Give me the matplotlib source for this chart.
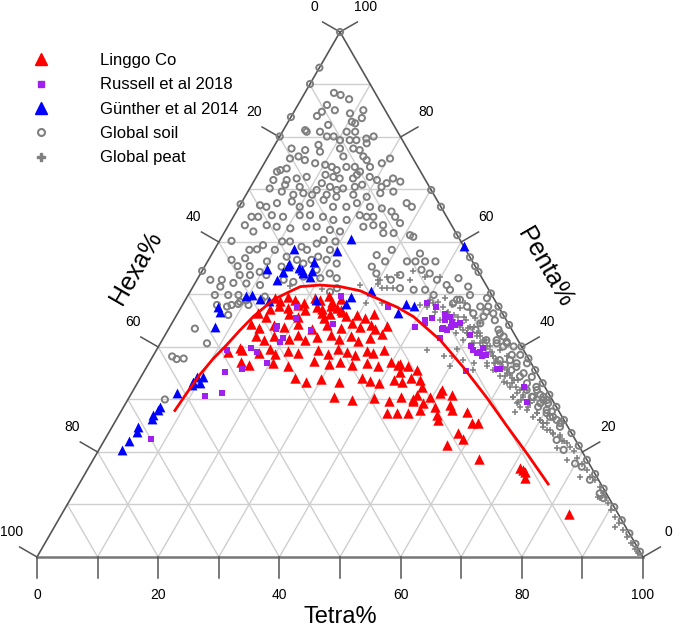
import numpy as np
import matplotlib
matplotlib.use("Agg")
import matplotlib.pyplot as plt
from matplotlib.lines import Line2D

plt.rcParams['font.family'] = ['Liberation Sans', 'DejaVu Sans']

# values as (Tetra%, Penta%); Hexa% = 100 - Tetra - Penta
linggo = [
    (14.7, 49.3), (15.8, 48.7), (16.7, 49.6), (18.0, 49.0), (19.9, 48.4), (21.1, 49.4), (22.2, 48.9),
    (23.3, 49.8), (24.4, 48.6), (25.5, 49.2),
    (14.9, 47.2), (16.0, 47.9), (17.7, 47.4), (19.1, 48.0), (20.7, 47.1), (22.4, 47.7), (23.4, 47.3),
    (24.5, 47.9), (25.7, 47.5), (26.7, 47.0),
    (13.3, 46.4), (14.9, 45.7), (18.5, 46.3), (20.1, 45.8), (23.7, 46.5), (24.5, 45.6), (25.3, 46.2),
    (27.0, 46.6), (28.1, 45.9), (29.8, 46.0), (31.4, 45.5), (32.5, 46.3),
    (13.1, 44.3), (14.8, 43.6), (17.0, 44.2), (18.9, 43.8), (20.9, 44.4), (23.6, 43.5), (25.8, 44.1),
    (28.3, 43.7), (29.7, 44.5), (31.3, 43.9), (33.0, 44.2), (34.1, 43.4), (35.7, 44.0),
    (15.1, 42.1), (16.7, 41.4), (18.1, 42.0), (20.8, 41.6), (22.0, 42.3), (23.6, 41.3), (25.3, 41.9),
    (27.4, 42.2), (29.1, 41.5), (30.8, 42.0), (32.4, 41.2), (34.1, 41.8), (35.7, 42.4),
    (12.0, 39.1), (14.0, 39.5), (17.2, 38.8), (18.6, 39.6), (20.0, 38.7), (21.7, 39.3), (23.6, 38.9),
    (26.6, 39.4), (28.8, 38.6), (29.9, 39.7), (31.6, 39.0), (33.2, 38.5), (34.9, 39.2), (36.0, 38.8),
    (37.6, 39.4), (13.5, 39.9),
    (15.0, 37.2), (16.7, 36.6), (20.5, 37.0), (23.3, 36.4), (27.1, 37.3), (29.9, 36.7), (31.5, 37.1),
    (33.8, 36.5), (36.0, 37.0), (38.1, 36.3), (39.8, 37.2), (41.5, 36.8), (43.1, 36.4),
    (25.5, 34.0), (27.7, 33.4), (29.9, 33.9), (33.2, 33.3), (36.5, 34.1), (38.1, 33.6), (39.8, 33.2),
    (42.0, 33.8), (43.6, 33.4), (44.7, 34.0),
    (33.8, 30.5), (37.1, 29.9), (40.4, 30.3), (43.2, 29.8), (44.8, 30.4), (47.0, 30.0),
    (41.3, 36.6), (42.3, 35.3), (44.9, 35.6), (46.4, 33.7), (47.3, 32.4), (47.2, 30.9), (47.2, 29.8),
    (49.1, 29.3), (49.2, 28.0), (51.4, 28.6), (49.6, 30.5), (50.9, 31.2), (50.9, 31.8), (52.5, 27.0),
    (53.2, 26.1), (53.7, 29.0), (54.4, 28.0), (57.1, 27.7), (59.0, 25.5), (60.1, 25.5), (57.7, 23.6),
    (59.1, 22.4), (57.0, 21.3), (44.0, 27.4), (45.7, 27.4), (47.6, 27.4), (53.0, 30.9), (63.6, 18.7),
    (71.9, 16.6), (72.5, 16.1), (72.9, 15.1), (71.2, 17.0), (83.7, 8.2),
]

russell = [
    (25.3, 49.7), (19.1, 47.6), (20.0, 45.5), (17.6, 44.0), (17.7, 43.4), (23.6, 43.2), (19.7, 41.8),
    (19.6, 41.0), (15.4, 39.8), (16.7, 39.1), (11.7, 39.4), (19.5, 36.9), (15.9, 35.8), (13.4, 35.3),
    (14.8, 31.3), (12.4, 30.7), (7.6, 22.5), (26.6, 44.4), (34.2, 47.6), (40.4, 43.9), (40.1, 48.4),
    (42.0, 47.6), (41.4, 45.1), (41.7, 44.6), (42.5, 45.5), (44.2, 46.3), (45.3, 45.8), (44.8, 45.1),
    (46.0, 44.8), (45.2, 43.6), (46.0, 43.2), (45.1, 43.4), (47.6, 44.5), (46.9, 44.2), (46.3, 43.9),
    (45.6, 41.7), (50.3, 42.3), (51.5, 40.1), (52.3, 39.4), (53.6, 39.1), (53.7, 39.8), (54.9, 38.5),
    (54.3, 38.3), (53.2, 38.8), (58.0, 35.8), (58.5, 35.9), (53.1, 35.5), (64.2, 32.4), (66.1, 29.6),
]

gunther = [
    (40.9, 59.2), (21.5, 60.5), (13.1, 58.6), (20.4, 58.3), (13.6, 55.9), (13.8, 55.4), (17.7, 56.1),
    (10.6, 54.8), (13.5, 54.3), (15.8, 55.0), (16.3, 54.7), (16.9, 54.0), (18.2, 54.5), (13.2, 52.8),
    (18.3, 53.4), (9.7, 49.7), (10.5, 49.9), (12.2, 49.1), (13.9, 48.8), (21.5, 49.0), (27.0, 49.5),
    (29.8, 50.7), (26.9, 48.2), (36.8, 48.2), (38.3, 47.8), (36.4, 46.4), (6.1, 47.6), (6.9, 46.7),
    (7.4, 43.9), (9.2, 34.3), (9.1, 33.4), (10.3, 33.1), (10.2, 34.3), (9.1, 32.8), (7.4, 31.3),
    (6.0, 28.6), (6.0, 28.0), (5.7, 27.0), (5.8, 26.2), (4.3, 24.7), (4.5, 23.9), (4.1, 22.0),
    (3.8, 20.4),
]

soil = [
    (4.8, 88.4), (6.1, 88.0), (7.9, 87.2), (4.8, 86.1), (6.6, 85.1), (4.2, 84.0), (4.6, 84.8), (9.4, 84.5),
    (11.3, 85.1), (11.8, 83.6), (10.5, 82.9), (11.2, 82.6), (3.6, 81.3), (4.0, 81.0), (6.2, 81.0),
    (6.9, 82.3), (8.9, 80.1), (7.8, 80.1), (10.3, 79.4), (10.6, 81.0), (12.0, 81.0), (13.0, 79.4),
    (11.9, 79.4), (14.5, 79.7), (15.5, 80.1), (15.0, 78.8), (14.5, 77.5), (13.3, 77.8), (3.1, 77.8),
    (5.5, 77.5), (7.2, 78.5), (8.1, 77.2), (11.1, 77.8), (12.4, 76.3), (15.7, 76.3), (16.6, 75.6),
    (3.8, 75.9), (5.0, 76.3), (6.4, 75.6), (3.3, 73.7), (2.9, 73.4), (4.2, 74.0), (8.4, 75.0),
    (10.2, 74.7), (11.5, 74.3), (12.6, 73.7), (13.9, 74.3), (15.3, 74.3), (16.6, 73.4), (17.8, 74.3),
    (20.3, 75.9), (19.4, 75.0), (5.3, 71.8), (6.8, 72.1), (8.3, 72.4), (11.2, 72.8), (12.7, 72.4),
    (13.9, 72.1), (16.1, 72.1), (16.4, 72.8), (18.7, 72.4), (20.2, 71.8), (22.1, 71.2), (22.7, 72.1),
    (24.2, 71.5), (3.1, 71.8), (5.5, 70.9), (8.1, 70.5), (11.4, 71.2), (13.1, 70.5), (14.5, 69.9),
    (15.4, 70.2), (17.2, 70.5), (18.2, 70.9), (21.6, 70.5), (3.3, 70.2), (5.6, 69.6), (7.8, 69.0),
    (9.3, 69.3), (10.9, 69.0), (11.2, 69.9), (13.3, 69.0), (15.1, 68.6), (17.7, 69.0), (20.1, 68.6),
    (22.0, 69.3), (24.0, 69.6), (27.3, 67.4), (28.5, 66.7), (3.3, 67.0), (4.5, 66.7), (5.9, 67.4),
    (8.2, 67.7), (10.0, 66.7), (11.4, 67.4), (13.3, 68.0), (15.5, 66.7), (17.7, 66.7), (19.1, 67.4),
    (21.6, 66.7), (23.7, 66.4), (25.6, 65.8), (26.7, 64.8), (3.0, 64.8), (4.1, 64.8), (6.2, 65.1),
    (8.2, 64.8), (10.8, 65.1), (12.5, 65.1), (14.8, 64.8), (16.8, 64.2), (19.0, 64.2), (20.7, 65.1),
    (22.0, 64.8), (23.1, 64.8), (28.1, 63.6), (2.7, 63.2), (4.7, 62.0), (6.3, 63.2), (8.1, 62.9),
    (10.5, 62.6), (13.0, 62.9), (14.7, 62.9), (17.2, 62.3), (19.0, 62.0), (22.4, 62.9), (23.9, 63.2),
    (25.5, 63.2), (28.0, 61.7), (30.9, 61.3), (31.6, 61.0), (26.3, 61.7),
    (2.0, 60.2), (5.8, 58.5), (7.0, 58.6), (3.8, 56.6), (5.9, 56.9), (5.4, 55.4), (7.4, 55.4), (9.8, 56.3),
    (6.6, 53.7), (8.3, 53.7), (9.6, 54.3), (4.1, 52.8), (2.2, 52.8), (6.3, 52.2), (4.5, 51.5), (8.5, 52.1),
    (10.9, 51.8), (7.6, 59.4), (10.0, 58.5), (10.4, 60.1), (11.7, 60.1), (14.1, 59.1), (15.3, 58.5),
    (16.3, 59.7), (17.1, 60.4), (19.1, 58.5), (19.2, 60.1), (17.8, 57.2), (19.5, 56.6), (21.5, 55.9),
    (12.6, 57.2), (14.6, 56.6), (16.0, 55.9), (17.0, 56.6), (18.8, 54.7), (12.7, 55.3), (11.0, 53.7),
    (14.3, 52.8), (16.1, 52.4), (17.3, 53.4), (20.2, 53.1), (21.3, 54.0), (22.9, 53.1), (4.4, 49.9),
    (6.6, 49.9), (8.3, 49.9), (5.7, 48.0), (7.5, 47.7), (9.1, 48.2), (12.6, 48.9), (12.8, 49.6),
    (10.1, 48.9), (10.9, 48.0), (23.1, 50.5), (23.9, 51.2),
    (8.1, 48.0), (9.2, 48.6), (8.5, 46.1), (4.3, 43.5), (7.7, 40.7), (3.2, 38.2), (4.2, 37.7), (5.3, 37.8),
    (6.1, 30.0), (27.3, 57.5), (27.6, 55.3), (29.0, 54.0),
    (29.3, 58.5), (29.3, 56.3), (32.9, 56.3), (34.3, 56.3), (35.9, 56.3), (37.6, 56.3), (34.3, 57.8),
    (36.1, 54.7), (37.8, 54.0), (39.6, 52.8), (41.7, 51.8), (42.7, 50.9), (43.0, 53.1), (45.4, 51.5),
    (46.5, 49.9), (44.8, 49.0), (36.7, 50.9), (40.5, 49.9), (33.1, 53.7), (32.0, 52.8), (34.3, 51.2),
    (38.6, 50.9), (49.6, 49.3), (50.6, 47.7), (52.1, 46.4), (54.5, 43.3), (56.0, 42.0), (57.2, 40.7),
    (57.6, 37.5), (58.9, 36.6), (60.5, 35.6), (62.5, 34.4), (66.6, 30.5), (68.4, 29.3), (69.2, 29.9),
    (71.8, 26.7), (73.9, 24.8), (49.3, 47.7), (50.8, 45.8), (50.7, 43.3), (53.5, 41.3), (55.5, 40.7),
    (59.1, 38.5), (60.7, 36.9), (64.3, 33.1), (66.6, 31.8),
    (64.9, 31.8), (66.4, 30.5), (67.6, 30.9), (68.6, 29.9), (69.7, 29.3), (68.4, 28.6), (70.4, 27.4),
    (71.1, 27.7), (72.7, 26.1), (73.6, 25.5), (74.6, 22.3), (76.7, 20.4), (79.9, 17.8), (81.3, 17.2),
    (83.9, 14.7), (86.8, 12.1), (87.9, 11.2),
    (50.8, 46.7), (53.0, 45.1), (55.1, 42.6), (57.0, 41.0), (58.6, 40.1), (60.5, 38.5), (62.4, 36.9),
    (64.5, 34.3), (66.2, 32.4), (68.3, 30.5), (70.1, 28.0), (71.3, 26.7), (55.2, 41.3), (56.9, 40.1),
    (59.3, 37.5), (61.0, 36.2), (62.8, 35.0), (50.9, 44.5), (48.8, 46.4), (47.1, 47.7), (45.3, 49.0),
    (44.5, 48.3),
    # points lying on the Hexa and Tetra edges
    (0.0, 100.0), (0.0, 93.2), (0.0, 90.1), (0.0, 83.8), (0.0, 80.1), (0.0, 67.2), (0.0, 54.5),
    (30.1, 69.9), (33.3, 66.7), (38.7, 61.3), (42.9, 57.1), (44.6, 55.4), (45.7, 54.3), (49.8, 50.2),
    (52.3, 47.7), (53.9, 46.1), (55.8, 44.2), (59.9, 40.1), (62.2, 37.8), (64.4, 35.6), (66.9, 33.1),
    (69.1, 30.9), (71.4, 28.6), (73.9, 26.1), (76.4, 23.6), (78.8, 21.2), (81.5, 18.5), (84.2, 15.8),
    (87.0, 13.0), (90.5, 9.5), (93.0, 7.0), (95.5, 4.5), (97.5, 2.5), (99.0, 1.0),
]

peat = [
    (30.2, 52.8), (31.0, 53.4), (31.3, 51.2), (33.2, 51.2), (35.2, 52.8), (34.9, 54.4), (37.3, 53.4),
    (39.8, 53.4), (40.4, 49.0), (41.9, 48.6), (42.7, 49.3), (44.4, 48.0), (46.1, 47.4), (46.5, 48.3),
    (47.9, 47.1), (46.6, 45.8), (48.3, 45.1), (49.6, 45.5), (50.9, 44.5), (50.1, 43.9), (51.8, 42.6),
    (49.6, 42.6), (49.7, 41.3), (51.4, 40.7), (52.8, 40.7), (54.7, 40.1), (54.4, 38.5), (56.2, 38.2),
    (56.7, 39.4), (58.0, 35.6), (60.0, 35.0), (61.8, 33.7), (61.8, 32.4), (63.8, 31.8), (65.0, 30.5),
    (64.5, 29.3), (66.7, 29.3), (66.8, 28.0), (68.8, 27.4), (70.0, 26.1), (71.4, 25.5), (72.6, 24.2),
    (74.8, 22.9), (76.6, 21.7), (56.1, 36.3), (53.6, 36.9), (51.6, 37.5), (49.4, 38.2), (47.9, 42.6),
    (46.0, 43.9), (43.9, 45.1), (42.3, 46.7), (40.5, 47.7), (39.2, 48.0), (58.4, 38.2), (57.5, 37.2),
    (63.3, 30.5), (60.3, 33.4),
    (43.2, 47.7), (44.5, 46.7), (45.7, 46.1), (47.8, 44.5), (49.4, 43.6), (51.6, 42.0), (53.0, 41.3),
    (54.3, 39.7), (55.5, 39.1), (57.1, 36.9), (58.7, 35.9), (60.1, 34.4), (61.8, 33.1), (63.6, 31.2),
    (65.0, 29.9), (66.8, 28.6), (68.5, 26.7), (71.1, 24.8), (73.4, 23.6), (75.6, 22.0), (47.2, 44.2),
    (48.7, 43.2), (44.7, 45.8), (41.2, 48.3),
    (27.4, 51.8), (30.3, 52.0), (32.5, 53.7), (32.7, 48.4), (30.2, 48.3), (48.0, 38.2), (50.0, 36.3),
    (44.6, 39.4), (49.4, 39.7), (53.5, 41.3), (56.9, 36.9), (54.2, 35.6), (21.6, 51.0), (29.9, 52.8),
    (32.1, 51.2), (15.9, 51.6),
    (52.1, 42.0), (54.2, 40.1), (56.2, 38.2), (58.0, 36.9), (59.7, 35.6), (61.3, 34.0), (62.9, 32.4),
    (64.8, 30.9), (66.7, 29.3), (68.8, 27.4), (70.0, 26.1), (72.0, 24.2), (59.2, 34.4), (57.5, 35.6),
    (55.8, 36.9), (53.7, 38.8), (51.7, 40.7), (49.6, 42.6), (47.9, 43.9), (46.1, 45.1), (44.4, 46.4),
    (61.0, 33.1), (63.3, 30.5), (65.4, 28.6), (47.5, 45.8), (49.5, 43.9), (51.3, 42.6), (53.1, 41.0),
    (55.2, 39.1), (56.9, 37.8), (58.8, 36.2), (60.7, 34.7), (62.6, 33.7), (64.9, 31.8), (67.0, 29.9),
    (70.8, 25.5),
    (65.0, 27.7), (64.6, 29.6), (70.8, 25.5), (73.4, 23.5), (74.7, 23.2), (75.9, 22.0), (77.4, 21.0),
    (78.5, 20.1), (79.7, 18.8), (81.0, 17.8), (82.4, 16.6), (83.6, 15.3), (84.7, 14.7), (86.2, 13.4),
    (87.4, 12.1), (88.0, 11.5), (89.2, 10.2), (90.3, 9.0), (91.6, 7.7), (92.9, 6.4), (94.2, 5.1),
    (95.4, 3.9), (96.8, 2.6), (97.9, 1.6), (98.9, 0.7), (92.4, 5.8), (86.9, 11.5), (75.4, 20.7),
    (78.2, 18.5), (82.0, 15.3), (87.3, 11.2),
]

# trend curve
curve = [
    (8.8, 27.9), (9.1, 31.2), (9.5, 34.7), (10.2, 37.8), (11.1, 40.4), (11.9, 43.2), (12.8, 45.8),
    (14.5, 49.0), (16.1, 50.3), (17.7, 51.5), (20.8, 51.8), (24.3, 51.5), (28.0, 50.7), (32.1, 49.0),
    (35.6, 47.6), (39.2, 45.8), (45.9, 41.3), (52.2, 36.2), (59.1, 30.3), (65.0, 25.0), (71.0, 19.7),
    (77.4, 13.9),
]

ticks_major = [0, 20, 40, 60, 80, 100]
ticks_bottom = [0, 10, 20, 30, 40, 50, 60, 70, 80, 90, 100]
grid_levels = [10, 20, 30, 40, 50, 60, 70, 80, 90]

S3 = np.sqrt(3) / 2


def to_xy(pts):
    arr = np.asarray(pts, dtype=float)
    tetra, penta = arr[:, 0], arr[:, 1]
    return tetra + penta / 2, penta * S3


fig = plt.figure(figsize=(6.73, 6.29), dpi=100)
ax = fig.add_axes([0, 0, 1, 1])
ax.set_xlim(-6.106, 104.95)
ax.set_ylim(-11.88, 91.88)
ax.axis('off')

grid_c = '#cfcfcf'
for k in grid_levels:
    for seg in ([(0, k), (100 - k, k)], [(k, 0), (k, 100 - k)], [(100 - k, 0), (0, 100 - k)]):
        x, y = to_xy(seg)
        ax.plot(x, y, color=grid_c, lw=1.0, zorder=1)

edge_c = '#555555'
x, y = to_xy([(0, 0), (0, 100), (100, 0)])
ax.plot(x, y, color=edge_c, lw=1.2, zorder=2)
x, y = to_xy([(0, 0), (100, 0)])
ax.plot(x, y, color='#777777', lw=1.8, zorder=2)

tl = 3.3
# left side: Hexa%
for h in ticks_major:
    x, y = to_xy([(0, 100 - h)])
    ex, ey = x[0] - tl * S3, y[0] + tl * 0.5
    ax.plot([x[0], ex], [y[0], ey], color=edge_c, lw=1.1)
    ax.text(ex - 1.3, ey + 2.4, str(h), ha='center', va='center', fontsize=10)
# right side: Penta%
for p in ticks_major:
    x, y = to_xy([(100 - p, p)])
    ex, ey = x[0] + tl * S3, y[0] + tl * 0.5
    ax.plot([x[0], ex], [y[0], ey], color=edge_c, lw=1.1)
    ax.text(ex + 1.3, ey + 2.4, str(p), ha='center', va='center', fontsize=10)
# bottom: Tetra%
for t in ticks_bottom:
    ax.plot([t, t], [0, -3.5], color=edge_c, lw=1.1)
    if t % 20 == 0:
        ax.text(t, -6.3, str(t), ha='center', va='center', fontsize=10)

ax.text(50, -9.9, 'Tetra%', ha='center', va='center', fontsize=17)
ax.text(16.3, 47.7, 'Hexa%', ha='center', va='center', fontsize=18, rotation=60)
ax.text(83.8, 47.7, 'Penta%', ha='center', va='center', fontsize=18, rotation=-60)

gray = '#7f7f7f'
x, y = to_xy(soil)
ax.scatter(x, y, s=20, marker='o', facecolors='none', edgecolors=gray, linewidths=1.4, zorder=3)
x, y = to_xy(peat)
ax.scatter(x, y, s=24, marker='+', color=gray, linewidths=1.1, zorder=3)
x, y = to_xy(linggo)
ax.scatter(x, y, s=56, marker='^', color='#ff0000', linewidths=0, zorder=4)
x, y = to_xy(russell)
ax.scatter(x, y, s=22, marker='s', color='#a020f0', linewidths=0, zorder=5)
x, y = to_xy(gunther)
ax.scatter(x, y, s=50, marker='^', color='#0000ff', linewidths=0, zorder=5)

x, y = to_xy(curve)
ax.plot(x, y, color='#ff0000', lw=2, zorder=6)

handles = [
    Line2D([], [], ls='none', marker='^', color='#ff0000', markersize=8),
    Line2D([], [], ls='none', marker='s', color='#a020f0', markersize=5),
    Line2D([], [], ls='none', marker='^', color='#0000ff', markersize=8),
    Line2D([], [], ls='none', marker='o', mfc='none', mec=gray, mew=1.5, markersize=5),
    Line2D([], [], ls='none', marker='P', color=gray, markersize=6),
]
labels = ['Linggo Co', 'Russell et al 2018', 'Günther et al 2014', 'Global soil', 'Global peat']
ax.legend(handles, labels, loc='upper left', bbox_to_anchor=(24.3 / 673, 1 - 53 / 629),
          frameon=False, fontsize=12, handlelength=2, handletextpad=2.54,
          labelspacing=0.56, borderpad=0, borderaxespad=0)

fig.savefig('out.png', dpi=100)
